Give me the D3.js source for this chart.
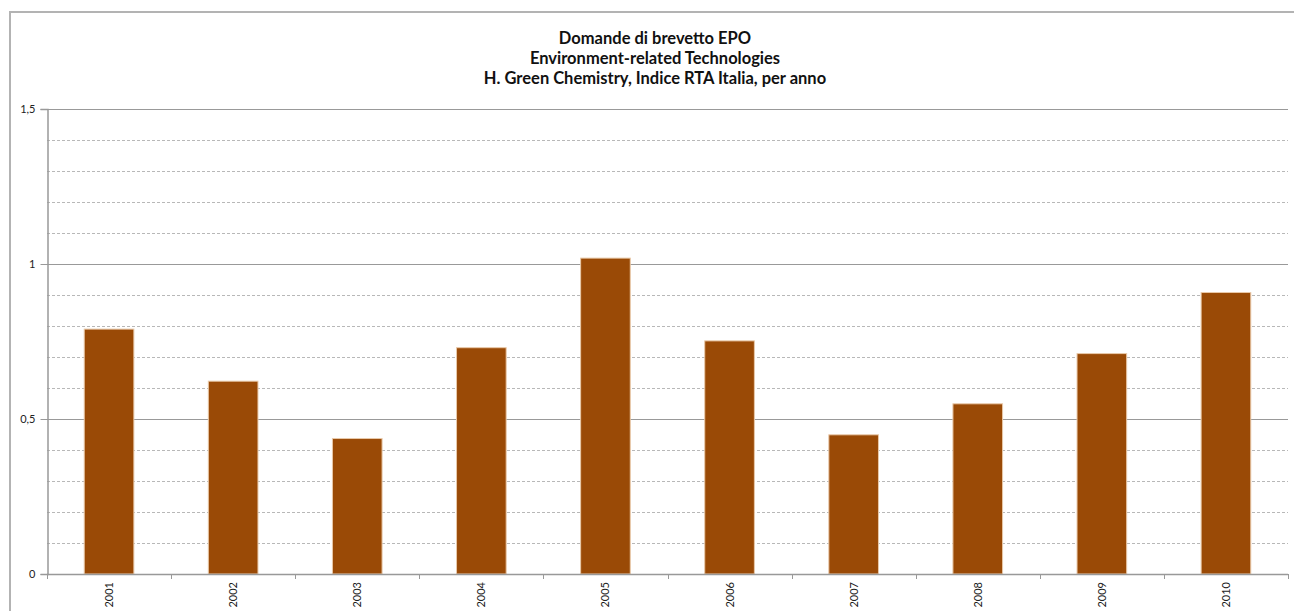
<!DOCTYPE html>
<html><head><meta charset="utf-8">
<script src="https://cdn.jsdelivr.net/npm/d3@7"></script>
<style>html,body{margin:0;padding:0;background:#fff;}svg{display:block;}</style>
</head><body>
<svg id="chart" width="1294" height="611"></svg>
<script>
const categories = ["2001","2002","2003","2004","2005","2006","2007","2008","2009","2010"];
const values = [0.790, 0.622, 0.437, 0.730, 1.019, 0.752, 0.449, 0.549, 0.711, 0.908];
const titleLines = ["Domande di brevetto EPO","Environment-related Technologies","H. Green Chemistry, Indice RTA Italia, per anno"];
const yMajorTicks = [0, 0.5, 1, 1.5];
const yMinorTicks = [0.1,0.2,0.3,0.4,0.6,0.7,0.8,0.9,1.1,1.2,1.3,1.4];
const fmt = v => String(v).replace(".", ",");

(function(){
const svg = d3.select("#chart");
const pLeft = 47, pRight = 1288, pTop = 109, pBottom = 574;

// outer border
svg.append("path").attr("d", "M10,612 L10,12 L1296,12")
  .attr("fill","none").attr("stroke","#b3b3b3").attr("stroke-width",2);

const x = d3.scaleBand().domain(categories).range([pLeft, pRight]).paddingInner(0.6).paddingOuter(0.3);
const y = d3.scaleLinear().domain([0,1.5]).range([pBottom, pTop]);

// minor gridlines
svg.append("g").selectAll("line").data(yMinorTicks).join("line")
  .attr("x1", pLeft).attr("x2", pRight)
  .attr("y1", d => Math.round(y(d))+0.5).attr("y2", d => Math.round(y(d))+0.5)
  .attr("stroke","#b8b8b8").attr("stroke-width",1).attr("stroke-dasharray","3,2");
// major gridlines
svg.append("g").selectAll("line").data(yMajorTicks.filter(d=>d>0)).join("line")
  .attr("x1", pLeft).attr("x2", pRight)
  .attr("y1", d => Math.round(y(d))+0.5).attr("y2", d => Math.round(y(d))+0.5)
  .attr("stroke","#999").attr("stroke-width",1.2);

// bars
svg.append("g").selectAll("rect").data(values).join("rect")
  .attr("x", (d,i) => x(categories[i]))
  .attr("width", x.bandwidth())
  .attr("y", d => y(d))
  .attr("height", d => y(0) - y(d))
  .attr("fill","#9a4a06").attr("stroke","#e9c9a9").attr("stroke-width",1);

// y axis
const yAxis = d3.axisLeft(y).tickValues(yMajorTicks).tickSize(7).tickPadding(5).tickFormat(fmt);
const gy = svg.append("g").attr("transform",`translate(${pLeft+0.5},0)`).call(yAxis);
gy.select(".domain").attr("stroke","#999").attr("stroke-width",1.5);
gy.selectAll(".tick line").attr("stroke","#999");
gy.selectAll("text").attr("font-family","Lato, 'Open Sans', sans-serif").attr("font-size",11).attr("fill","#222");

// x axis
const xEdges = d3.scaleLinear().domain([0,categories.length]).range([pLeft,pRight]);
svg.append("line").attr("x1",pLeft).attr("x2",pRight).attr("y1",pBottom+0.5).attr("y2",pBottom+0.5)
  .attr("stroke","#999").attr("stroke-width",1.5);
svg.append("g").selectAll("line").data(d3.range(categories.length+1)).join("line")
  .attr("x1", i => Math.round(xEdges(i))+0.5).attr("x2", i => Math.round(xEdges(i))+0.5)
  .attr("y1", pBottom).attr("y2", pBottom+5).attr("stroke","#999");
svg.append("g").selectAll("text").data(categories).join("text")
  .attr("transform", d => `translate(${x(d)+x.bandwidth()/2+4},${pBottom+8}) rotate(-90)`)
  .attr("text-anchor","end")
  .attr("font-family","Lato, 'Open Sans', sans-serif").attr("font-size",11).attr("fill","#222")
  .text(d => d);

// title
svg.append("g").selectAll("text").data(titleLines).join("text")
  .attr("x", 655).attr("y", (d,i) => 44 + i*20)
  .attr("text-anchor","middle")
  .attr("font-family","Lato, 'Open Sans', sans-serif").attr("font-weight","bold").attr("font-size",16.5).attr("fill","#111")
  .text(d => d);
})();
</script>
</body></html>
